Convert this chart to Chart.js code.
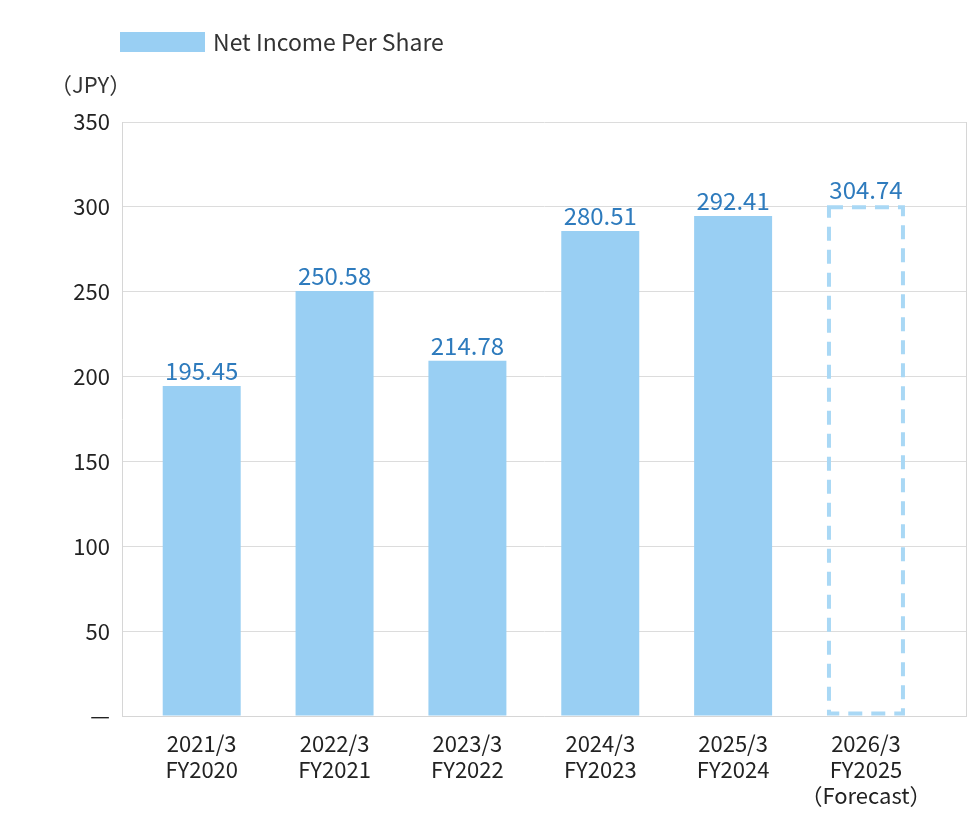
<!DOCTYPE html>
<html>
<head>
<meta charset="utf-8">
<script src="https://cdn.jsdelivr.net/npm/chart.js@4/dist/chart.umd.min.js"></script>
<style>
  html, body { margin: 0; padding: 0; background: #fff; }
  #wrap { width: 980px; height: 840px; }
</style>
</head>
<body>
<div id="wrap"><canvas id="epsChart"></canvas></div>
<script>
// ==================== DATOS ====================
const categorias = [
  ['2021/3', 'FY2020'],
  ['2022/3', 'FY2021'],
  ['2023/3', 'FY2022'],
  ['2024/3', 'FY2023'],
  ['2025/3', 'FY2024'],
  ['2026/3', 'FY2025', '（Forecast）']
];
// alturas de barras (JPY)
const resultados = [194.5, 250.4, 209.3, 285.8, 294.6, null];
const pronostico = [null, null, null, null, null, 301];
// etiquetas impresas sobre cada barra
const etiquetas = ['195.45', '250.58', '214.78', '280.51', '292.41', '304.74'];
const ticksY = [0, 50, 100, 150, 200, 250, 300, 350];

const FONT = '"Noto Sans CJK JP", "Noto Sans", sans-serif';
const AZUL = '#99cff3';
const TEXTO_AZUL = '#2e7bbd';

const puntos = (serie) => serie.map((v, i) => ({ x: i, y: v }));

// ==================== PLUGIN: leyenda, unidad, etiquetas, borde dashed ====================
const decoracion = {
  id: 'decoracion',
  afterDatasetsDraw(chart) {
    const ctx = chart.ctx;
    const area = chart.chartArea;
    ctx.save();

    // borde derecho
    ctx.strokeStyle = '#d6d6d6';
    ctx.lineWidth = 1;
    ctx.beginPath();
    ctx.moveTo(area.right + 0.5, area.top);
    ctx.lineTo(area.right + 0.5, area.bottom);
    ctx.stroke();

    // barra de pronostico con borde dashed
    const metaF = chart.getDatasetMeta(1);
    metaF.data.forEach((bar, i) => {
      if (pronostico[i] == null) return;
      const w = bar.width;
      ctx.strokeStyle = '#a9d8f5';
      ctx.lineWidth = 4;
      ctx.setLineDash([14, 9]);
      ctx.strokeRect(bar.x - w / 2 + 2, bar.y + 2, w - 4, bar.base - bar.y - 4);
      ctx.setLineDash([]);
    });

    // etiquetas de valor
    ctx.fillStyle = TEXTO_AZUL;
    ctx.font = '24px ' + FONT;
    ctx.textAlign = 'center';
    ctx.textBaseline = 'bottom';
    const metaR = chart.getDatasetMeta(0);
    etiquetas.forEach((txt, i) => {
      const bar = resultados[i] != null ? metaR.data[i] : metaF.data[i];
      ctx.fillText(txt, bar.x, bar.y - 3);
    });

    // leyenda
    ctx.fillStyle = AZUL;
    ctx.fillRect(120, 32, 85, 20);
    ctx.fillStyle = '#333';
    ctx.font = '23px ' + FONT;
    ctx.textAlign = 'left';
    ctx.textBaseline = 'middle';
    ctx.fillText('Net Income Per Share', 213, 42);

    // unidad
    ctx.font = '22px ' + FONT;
    ctx.fillText('（JPY）', 50, 85);
    ctx.restore();
  }
};

new Chart(document.getElementById('epsChart'), {
  type: 'bar',
  data: {
    datasets: [
      { label: 'Net Income Per Share', data: puntos(resultados), backgroundColor: AZUL,
        barPercentage: 0.587, categoryPercentage: 1 },
      { label: 'Forecast', data: puntos(pronostico), backgroundColor: 'rgba(0,0,0,0)',
        barPercentage: 0.587, categoryPercentage: 1 }
    ]
  },
  options: {
    responsive: true,
    maintainAspectRatio: false,
    animation: false,
    layout: { padding: { top: 122, right: 14, left: 0, bottom: 0 } },
    plugins: { legend: { display: false }, tooltip: { enabled: false } },
    scales: {
      x: {
        type: 'linear',
        stacked: true,
        offset: false,
        min: -0.6, max: 5.753,
        afterBuildTicks: (s) => { s.ticks = categorias.map((c, i) => ({ value: i })); },
        grid: { display: false },
        border: { color: '#d6d6d6' },
        ticks: {
          color: '#222', font: { family: FONT, size: 22, lineHeight: 1.2 }, padding: 6, maxRotation: 0,
          autoSkip: false,
          callback: (v) => categorias[v]
        },
        afterFit: (s) => { s.height = 124; }
      },
      y: {
        stacked: true,
        min: 0, max: 350,
        afterBuildTicks: (s) => { s.ticks = ticksY.map(v => ({ value: v })); },
        grid: { color: '#dcdcdc', drawTicks: false },
        border: { color: '#d6d6d6' },
        ticks: {
          color: '#222', padding: 12,
          font: { family: FONT, size: 22 },
          callback: (v) => v === 0 ? '—' : v
        },
        afterFit: (s) => { s.width = 122; }
      }
    }
  },
  plugins: [decoracion]
});
</script>
</body>
</html>
